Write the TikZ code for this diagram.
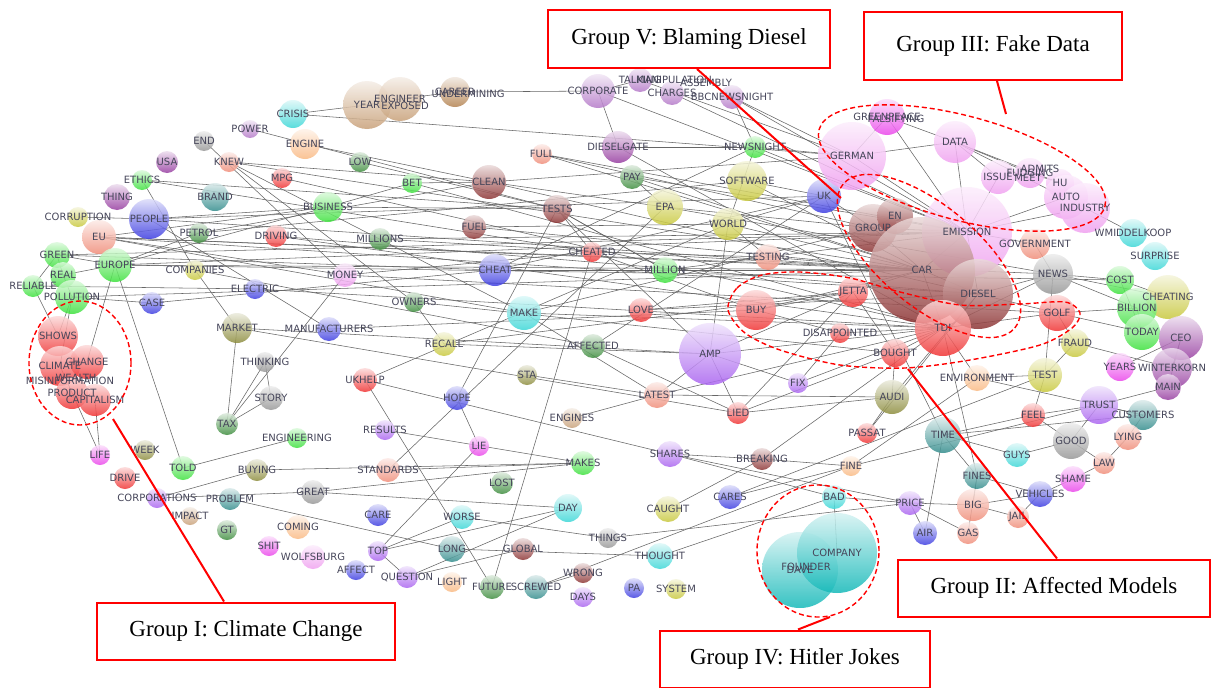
\documentclass[tikz,border=0pt]{standalone}
\usepackage{fontspec}
\setmainfont{Liberation Serif}
\newfontfamily\wordfont{DejaVu Sans}
\pgfdeclarelayer{paper}
\pgfdeclarelayer{edges}
\pgfsetlayers{paper,edges,main}

\definecolor{cgreen}{RGB}{60,225,60}
\definecolor{cdgreen}{RGB}{60,140,60}
\definecolor{cred}{RGB}{240,50,50}
\definecolor{csalmon}{RGB}{240,140,120}
\definecolor{cpeach}{RGB}{250,185,130}
\definecolor{cblue}{RGB}{60,60,225}
\definecolor{cpurple}{RGB}{150,60,160}
\definecolor{clav}{RGB}{170,100,240}
\definecolor{ccyan}{RGB}{60,215,215}
\definecolor{cteal}{RGB}{50,140,140}
\definecolor{cturq}{RGB}{20,185,185}
\definecolor{cyellow}{RGB}{200,200,60}
\definecolor{colive}{RGB}{140,140,60}
\definecolor{cgray}{RGB}{150,150,150}
\definecolor{cbrown}{RGB}{140,50,50}
\definecolor{cmagenta}{RGB}{235,70,235}
\definecolor{cpink}{RGB}{240,160,240}
\definecolor{ctan}{RGB}{200,160,120}
\definecolor{cbronze}{RGB}{180,130,80}
\definecolor{clilac}{RGB}{180,120,200}
\definecolor{wordgray}{RGB}{70,70,90}

\tikzset{
  bub/.style={circle, inner sep=0pt, draw=none, fill opacity=0.85, top color=#1!18, bottom color=#1},
  word/.style={font=\wordfont\fontsize{10}{11}\selectfont, text=wordgray, inner sep=0pt},
  link/.style={draw=black!60, line width=0.55pt},
  groupbox/.style={draw=red, line width=2pt, fill=white, inner sep=0pt, font=\fontsize{23}{26}\selectfont, minimum height=57pt},
  callout/.style={red, line width=2pt},
  ring/.style={red, line width=1.4pt, dash pattern=on 5pt off 3pt},
}

% word / x / y / radius / colour / text
\def\wordlist{crisis/293/114/14/ccyan/CRISIS, power/250/129/9/clilac/POWER, engine/305/144/15/cpeach/ENGINE,
endw/204/141/10/cgray/END, knew/229/162/10/csalmon/KNEW, usa/167/162/11/cpurple/USA,
ethics/142/180/10/cgreen/ETHICS, thing/117/197/13/cpurple/THING, brand/215/197/14/cteal/BRAND,
mpg/282/178/10/cred/MPG, corruption/78/217/10/cyellow/CORRUPTION, people/149/219/20/cblue/PEOPLE,
petrol/199/233/10/cdgreen/PETROL, driving/276/236/11/cred/DRIVING, eu/99/237/17/csalmon/EU,
green/57/255/13/cgreen/GREEN, europe/115/265/17/cgreen/EUROPE, companies/195/270/10/cyellow/COMPANIES,
real/63/275/13/cgreen/REAL, reliable/33/286/11/cgreen/RELIABLE, pollution/72/297/17/cgreen/POLLUTION,
casew/152/303/11/cblue/CASE, electric/255/289/10/cblue/ELECTRIC, market/237/328/15/colive/MARKET,
manuf/329/329/12/cblue/MANUFACTURERS, thinking/265/362/10/cgray/THINKING, story/271/398/12/cgray/STORY,
tax/227/424/11/cdgreen/TAX, shows/58/336/20/cred/SHOWS, climate/60/366/20/cred/CLIMATE,
change/87/362/17/cred/CHANGE, product/72/393/16/cred/PRODUCT, capitalism/95/400/16/cred/CAPITALISM,
life/100/455/10/cmagenta/LIFE, week/145/450/10/colive/WEEK, drive/125/478/11/cred/DRIVE,
told/183/468/12/cgreen/TOLD, buying/257/470/11/colive/BUYING, corporations/157/498/10/clav/CORPORATIONS,
problem/230/499/11/cteal/PROBLEM, impact/190/516/9/ctan/IMPACT, gt/227/530/10/cdgreen/GT,
great/313/492/12/cgray/GREAT, coming/298/527/12/cpeach/COMING, shit/269/546/10/cmagenta/SHIT,
wolfsburg/313/557/12/cpink/WOLFSBURG, year/367/105/24/ctan/YEAR, engineer/400/99/22/ctan/ENGINEER,
career/455/92/15/cbronze/CAREER, low/360/162/10/cdgreen/LOW, bet/412/183/10/cgreen/BET,
business/328/207/15/cgreen/BUSINESS, clean/489/182/17/cbrown/CLEAN, full/542/154/10/csalmon/FULL,
tests/557/209/14/cbrown/TESTS, fuel/474/227/12/cbrown/FUEL, millions/380/239/11/cdgreen/MILLIONS,
cheated/592/252/10/cred/CHEATED, cheat/495/270/16/cblue/CHEAT, money/345/275/12/cpink/MONEY,
owners/414/302/10/cdgreen/OWNERS, make/524/313/17/ccyan/MAKE, recall/444/344/12/cyellow/RECALL,
affected/593/346/12/cdgreen/AFFECTED, sta/527/375/10/colive/STA, ukhelp/365/380/12/cred/UKHELP,
hope/457/398/12/cblue/HOPE, engines/572/418/10/ctan/ENGINES, results/385/430/10/clav/RESULTS,
lie/479/446/10/cmagenta/LIE, engineering/297/438/10/cgreen/ENGINEERING, standards/388/470/12/csalmon/STANDARDS,
makes/583/463/12/cgreen/MAKES, lost/502/483/11/cdgreen/LOST, care/378/515/11/cblue/CARE,
worse/462/517/12/ccyan/WORSE, day/568/508/14/ccyan/DAY, top/378/551/10/clav/TOP,
long/452/549/13/cteal/LONG, global/523/549/11/cbrown/GLOBAL, affect/356/570/10/cblue/AFFECT,
question/407/577/11/clav/QUESTION, light/452/582/10/cpeach/LIGHT, future/492/587/12/cdgreen/FUTURE,
screwed/536/587/12/cteal/SCREWED, wrong/583/573/10/cbrown/WRONG, days/583/597/10/clav/DAYS,
corporate/598/91/17/clilac/CORPORATE, dieselgate/618/147/16/cpurple/DIESELGATE, talking/640/80/12/clilac/TALKING,
charges/672/93/12/clilac/CHARGES, bbc/732/97/12/clilac/BBCNEWSNIGHT, newsnight/755/147/11/cgreen/NEWSNIGHT,
pay/632/177/12/cdgreen/PAY, software/747/181/20/cyellow/SOFTWARE, epa/665/207/18/cyellow/EPA,
world/728/224/16/cyellow/WORLD, uk/824/196/17/cblue/UK, testing/768/257/13/csalmon/TESTING,
german/852/156/34/cpink/GERMAN, group/873/228/24/cbrown/GROUP, en/895/216/18/cbrown/EN,
greens/887/117/18/cmagenta/GREENPEACE, million/665/270/13/cgreen/MILLION, data/955/142/21/cpink/DATA,
issue/998/177/17/cpink/ISSUE, fudging/1030/173/15/cpink/FUDGING, hu/1060/183/14/cpink/HU,
auto/1066/197/22/cpink/AUTO, industry/1085/208/25/cpink/INDUSTRY, emission/967/232/45/cpink/EMISSION,
government/1035/244/15/csalmon/GOVERNMENT, wmid/1133/233/14/ccyan/WMIDDELKOOP, surprise/1155/256/14/ccyan/SURPRISE,
car/922/270/53/cbrown/CAR, diesel/978/294/35/cbrown/DIESEL, tdi/943/328/28/cred/TDI,
news/1053/274/20/cgray/NEWS, cost/1120/280/14/cgreen/COST, cheating/1168/297/22/cyellow/CHEATING,
billion/1137/308/20/cgreen/BILLION, golf/1057/313/18/cred/GOLF, today/1142/332/18/cgreen/TODAY,
ceo/1181/338/22/cpurple/CEO, fraud/1075/343/14/cyellow/FRAUD, years/1120/367/14/cmagenta/YEARS,
winterkorn/1172/368/20/cpurple/WINTERKORN, main/1168/387/13/cpurple/MAIN, environment/977/378/13/cpeach/ENVIRONMENT,
test/1045/375/17/cyellow/TEST, trust/1099/405/19/clav/TRUST, customers/1143/415/15/cteal/CUSTOMERS,
feel/1033/415/12/cred/FEEL, time/943/435/18/cteal/TIME, good/1071/441/18/cgray/GOOD,
lying/1128/437/13/csalmon/LYING, guys/1017/455/12/ccyan/GUYS, law/1104/463/11/csalmon/LAW,
shame/1073/479/13/cmagenta/SHAME, fines/977/476/13/cteal/FINES, vehicles/1040/494/13/cblue/VEHICLES,
price/910/503/12/clav/PRICE, big/973/505/16/csalmon/BIG, jail/1018/517/11/csalmon/JAIL,
air/925/533/12/cblue/AIR, gas/968/533/11/csalmon/GAS, love/641/310/12/cred/LOVE,
buy/756/310/20/cred/BUY, jetta/853/292/15/cred/JETTA, disappointed/840/333/10/cred/DISAPPOINTED,
bought/895/353/14/cred/BOUGHT, amp/710/354/31/clav/AMP, fix/798/383/10/clav/FIX,
latest/657/395/13/csalmon/LATEST, audi/892/397/17/colive/AUDI, lied/738/413/11/cred/LIED,
passat/867/433/10/cred/PASSAT, shares/670/454/13/clav/SHARES, breaking/762/459/11/cbrown/BREAKING,
fine/851/466/10/cpeach/FINE, cares/730/497/12/cblue/CARES, bad/834/497/12/ccyan/BAD,
caught/668/509/13/cyellow/CAUGHT, things/608/538/10/cgray/THINGS, thought/660/556/13/ccyan/THOUGHT,
pa/634/588/10/cblue/PA, system/676/589/10/cyellow/SYSTEM, dave/800/570/38/cturq/DAVE,
company/837/553/40/cturq/COMPANY}

\def\linklist{crisis/german, crisis/year, power/tests, endw/money, knew/clean, knew/car, knew/make, knew/owners,
ethics/tests, ethics/cheated, ethics/companies, mpg/tdi, corruption/people, people/uk, people/car,
petrol/clean, petrol/europe, petrol/software, driving/tdi, driving/diesel, eu/car, eu/diesel, eu/make,
eu/money, eu/news, green/cheat, green/emission, green/europe, green/real, green/reliable, europe/car,
europe/emission, europe/business, europe/told, europe/cost, europe/real, companies/affected,
companies/market, real/pollution, reliable/shows, pollution/shows, pollution/climate, pollution/car,
pollution/casew, casew/cheat, electric/tdi, electric/reliable, market/amp, market/lied, manuf/buy,
manuf/people, thinking/story, story/tax, tax/thinking, tax/money, tax/market, engineering/told,
climate/life, change/europe, capitalism/life, year/engineer, engineer/career, career/corporate,
engine/clean, low/tests, bet/clean, bet/tdi, bet/business, business/people, business/eu, business/tests,
clean/epa, clean/german, clean/diesel, full/group, full/car, full/emission, tests/amp, tests/cheated,
tests/million, fuel/car, fuel/world, millions/car, millions/emission, cheated/testing, cheat/uk,
cheat/newsnight, cheat/car, money/golf, money/cheated, owners/bought, owners/recall, make/group,
make/tdi, make/latest, recall/jetta, recall/amp, affected/uk, affected/lied, sta/latest, ukhelp/world,
ukhelp/future, ukhelp/shares, hope/tests, hope/lie, engines/latest, results/makes, lie/top,
standards/makes, standards/epa, great/day, great/makes, corporations/buying, corporations/great,
problem/long, buying/makes, top/day, top/worse, top/question, long/thought, worse/things,
question/global, question/day, screwed/wrong, screwed/fine, future/cheated, corporate/emission,
corporate/dieselgate, talking/german, talking/corporate, charges/emission, bbc/emission, bbc/newsnight,
bbc/german, newsnight/world, newsnight/german, newsnight/emission, dieselgate/tdi, dieselgate/newsnight,
pay/car, pay/epa, pay/emission, software/uk, software/car, epa/group, epa/news, world/testing,
world/uk, world/car, world/amp, uk/group, uk/time, testing/car, million/emission, million/tests,
million/car, love/jetta, love/diesel, buy/jetta, buy/car, buy/disappointed, buy/cheated, jetta/bought,
jetta/car, disappointed/tdi, amp/latest, amp/lied, amp/fix, amp/tdi, amp/jetta, latest/tdi,
latest/audi, lied/audi, lied/bought, lied/jetta, fix/disappointed, fix/tdi, audi/bought, audi/passat,
audi/diesel, passat/diesel, shares/bad, shares/breaking, shares/price, breaking/fine, breaking/tdi,
fine/environment, fine/trust, cares/fine, cares/test, caught/breaking, things/price, thought/bad,
bad/company, bad/price, german/greens, german/emission, german/data, greens/data, greens/emission,
data/emission, data/issue, data/hu, data/industry, issue/emission, fudging/hu, fudging/data,
hu/industry, auto/emission, industry/emission, industry/wmid, government/emission, government/news,
emission/car, emission/group, emission/diesel, en/group, group/car, car/diesel, car/tdi, diesel/golf,
diesel/news, tdi/golf, tdi/news, tdi/bought, news/cost, news/billion, news/cheating, news/test,
cost/cheating, cost/today, golf/fraud, golf/today, golf/billion, fraud/test, fraud/winterkorn,
today/billion, ceo/winterkorn, ceo/main, years/ceo, test/feel, test/environment, environment/tdi,
environment/customers, trust/feel, trust/customers, feel/time, feel/good, time/customers, time/fines,
good/law, good/guys, good/trust, lying/law, lying/customers, law/shame, shame/vehicles, vehicles/jail,
vehicles/big, vehicles/fines, big/jail, big/fines, big/price, price/gas, air/price, air/time,
gas/fines, guys/time, fines/tdi, main/trust}

\begin{document}
\begin{tikzpicture}[x=1pt,y=-1pt]
\useasboundingbox (0,0) rectangle (1213,688);
\begin{pgfonlayer}{paper}
\fill[white] (0,0) rectangle (1213,688);
\end{pgfonlayer}

% bubbles
\foreach \n/\x/\y/\r/\c/\t in \wordlist
  \node[bub=\c, minimum size={2*\r}] (\n) at (\x,\y) {};

% words
\foreach \n/\x/\y/\r/\c/\t in \wordlist
  \node[word] (t\n) at (\n) {\t};

% words piled on top of each other
\node[word] (texposed) at (405,106) {EXPOSED};
\node[word] (tundermining) at (468,94) {UNDERMINING};
\node[word] (tmanipulation) at (674,80) {MANIPULATION};
\node[word] (tassembly) at (706,83) {ASSEMBLY};
\node[word] (tfalsifying) at (896,119) {FALSIFYING};
\node[word] (tadmits) at (1040,169) {ADMITS};
\node[word] (tmeet) at (1028,178) {MEET};
\node[word] (twealth) at (76,378) {WEALTH};
\node[word] (tmisinfo) at (70,381) {MISINFORMATION};
\node[word] (tfounder) at (806,567) {FOUNDER};

% links
\begin{pgfonlayer}{edges}
\foreach \a/\b in \linklist
  \draw[link] (\a.center) -- (\b.center);
\end{pgfonlayer}

% groups
\draw[ring] (80,363) ellipse [x radius=51pt, y radius=62pt];
\draw[ring, rotate around={-15:(962,168)}] (962,168) ellipse [x radius=148pt, y radius=52pt];
\draw[ring, rotate around={-40:(929,256)}] (929,256) ellipse [x radius=112pt, y radius=50pt];
\draw[ring] (818,551) ellipse [x radius=61pt, y radius=66pt];
\draw[ring] plot[smooth cycle] coordinates {(728,310) (737,288) (762,275) (800,272) (850,278) (900,292)
  (960,305) (1020,304) (1065,302) (1080,313) (1072,328) (1040,345) (970,360) (905,368) (840,365) (780,350) (745,333)};

\node[groupbox, minimum width=282pt, minimum height=58pt] (g5) at (689,39) {Group V: Blaming Diesel};
\node[groupbox, minimum width=258pt, minimum height=68pt] (g3) at (993,46) {Group III: Fake Data};
\node[groupbox, minimum width=312pt] (g2) at (1054,588) {Group II: Affected Models};
\node[groupbox, minimum width=298pt] (g1) at (246,631) {Group I: Climate Change};
\node[groupbox, minimum width=270pt] (g4) at (795,659) {Group IV: Hitler Jokes};

\coordinate (g5tip) at (841,198);
\coordinate (g3tip) at (1006,114);
\coordinate (g2tip) at (908,369);
\coordinate (g1tip) at (113,419);
\coordinate (g4tip) at (830,617);
\draw[callout] ([xshift=8pt]g5.south) -- (g5tip);
\draw[callout] ([xshift=4pt]g3.south) -- (g3tip);
\draw[callout] ([xshift=3pt]g2.north) -- (g2tip);
\draw[callout] ([xshift=-22pt]g1.north) -- (g1tip);
\draw[callout] ([xshift=3pt]g4.north) -- (g4tip);
\end{tikzpicture}
\end{document}
